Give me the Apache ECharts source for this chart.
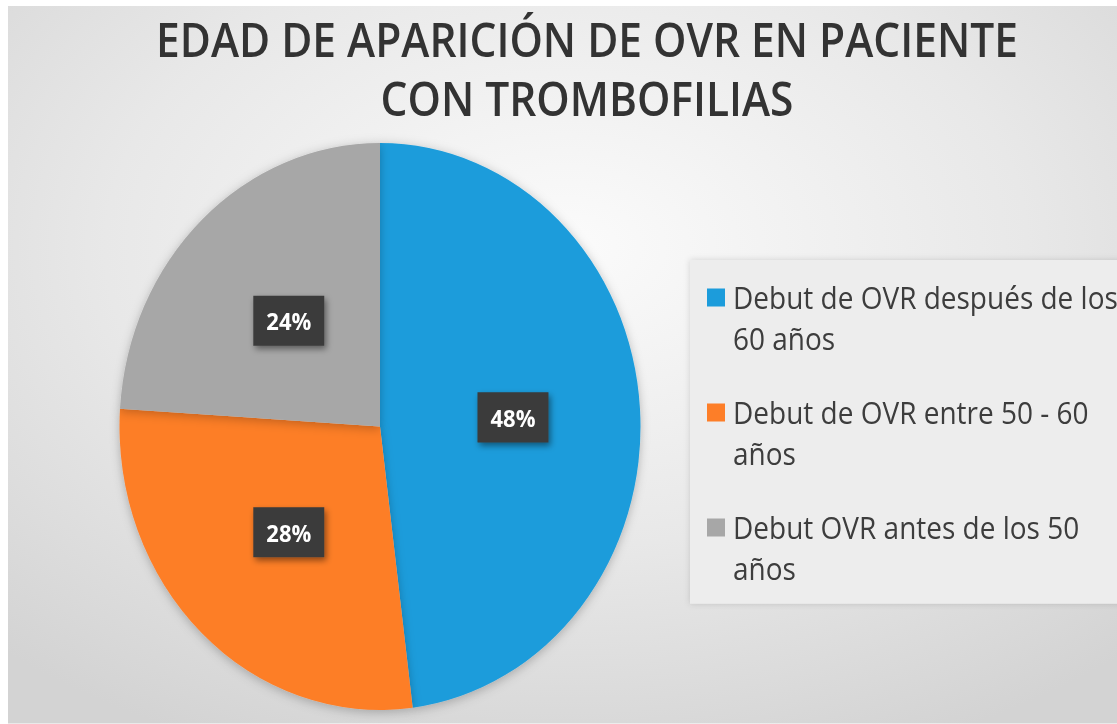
<!DOCTYPE html>
<html>
<head>
<meta charset="utf-8">
<script src="https://cdn.jsdelivr.net/npm/echarts@6/dist/echarts.min.js"></script>
<style>
html,body{margin:0;padding:0;background:#ffffff;}
#wrap{width:1117px;height:724px;overflow:hidden;position:relative;}
#chart{position:absolute;left:0;top:0;width:1117px;height:665.44px;transform:scaleY(1.088);transform-origin:0 0;}
</style>
</head>
<body>
<div id="wrap"><div id="chart"></div></div>
<script>
const titleLines = ['EDAD DE APARICIÓN DE OVR EN PACIENTE', 'CON TROMBOFILIAS'];
const categories = [
  'Debut de OVR después de los\n60 años',
  'Debut de OVR entre 50 - 60\naños',
  'Debut OVR antes de los 50\naños'
];
const values = [48, 28, 24];
const colors = ['#1c9cdb', '#fd7e28', '#a7a7a7'];

const chart = echarts.init(document.getElementById('chart'), null, { renderer: 'svg' });
const FONT = '"Open Sans", "Noto Sans", sans-serif';

chart.setOption({
  backgroundColor: '#ffffff',
  animation: false,
  graphic: [
    {
      type: 'rect', z: -10, silent: true,
      shape: { x: 8, y: 5.5, width: 1117, height: 670 },
      style: {
        fill: {
          type: 'radial', x: 0.5, y: 0.33, r: 0.75,
          colorStops: [
            { offset: 0, color: '#fbfbfb' },
            { offset: 0.55, color: '#e8e8e8' },
            { offset: 1, color: '#d3d3d3' }
          ]
        }
      }
    },
    {
      type: 'rect', z: -5, silent: true,
      shape: { x: 690, y: 239, width: 450, height: 316 },
      style: {
        fill: '#ededed',
        shadowBlur: 6,
        shadowColor: 'rgba(0,0,0,0.15)'
      }
    },
    {
      type: 'text', z: 10, silent: true,
      x: 587, y: 8.9,
      style: {
        text: titleLines.join('\n'),
        fontFamily: FONT,
        fontSize: 42.5,
        fontWeight: 600,
        fill: '#333333',
        lineHeight: 54.5,
        align: 'center',
        verticalAlign: 'top'
      }
    }
  ],
  legend: {
    orient: 'vertical',
    left: 707,
    top: 254.6,
    padding: 0,
    itemWidth: 21,
    itemHeight: 54.2,
    itemGap: 30.3,
    icon: 'path://M0,0H18V16.5H0Z M0,54.2L21,54.2',
    data: categories,
    textStyle: {
      fontFamily: FONT,
      fontSize: 28,
      color: '#3d3d3d',
      lineHeight: 37.7
    }
  },
  series: [{
    type: 'pie',
    center: [380, 392],
    radius: [0, 260.5],
    startAngle: 90,
    clockwise: true,
    color: colors,
    data: categories.map((c, i) => ({ name: c, value: values[i] })),
    itemStyle: {
      borderWidth: 0,
      shadowBlur: 10,
      shadowColor: 'rgba(0,0,0,0.25)',
      shadowOffsetY: 2
    },
    label: {
      show: true,
      position: 'inside',
      formatter: p => p.value + '%',
      fontFamily: FONT,
      fontSize: 22,
      fontWeight: 'bold',
      color: '#ffffff',
      backgroundColor: '#3a3a3a',
      padding: [11, 13],
      lineHeight: 24,
      shadowBlur: 6,
      shadowColor: 'rgba(0,0,0,0.45)',
      shadowOffsetX: 2,
      shadowOffsetY: 3
    },
    labelLine: { show: false },
    emphasis: { disabled: true }
  }]
});
</script>
</body>
</html>
